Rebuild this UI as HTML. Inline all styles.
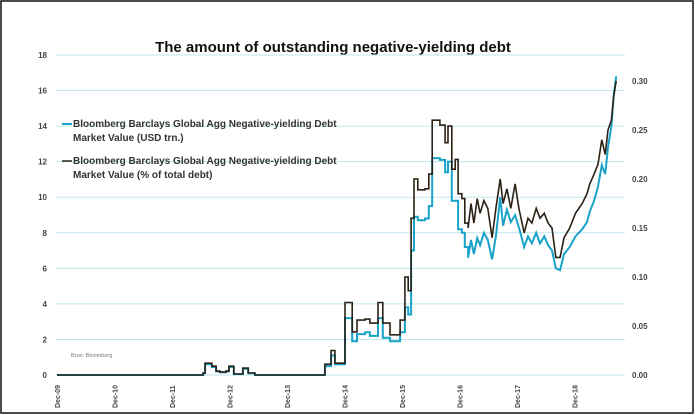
<!DOCTYPE html>
<html><head><meta charset="utf-8"><style>
html,body{margin:0;padding:0;background:#fff;}
#wrap{position:relative;width:695px;height:415px;overflow:hidden;}
svg{position:absolute;left:0;top:0;font-family:"Liberation Sans",sans-serif;}
</style></head><body>
<div id="wrap">
<svg id="chart" width="695" height="415">
<rect x="1" y="1" width="692" height="412" fill="#fff" stroke="#111" stroke-width="1.5"/>
<text x="333" y="52" text-anchor="middle" font-size="15" font-weight="bold" fill="#111">The amount of outstanding negative-yielding debt</text>
<g id="grid"></g><g id="series"></g><g id="axes"></g>
<line x1="62" y1="124" x2="72" y2="124" stroke="#1aa3c8" stroke-width="2"/>
<text x="73" y="127" font-size="10" font-weight="bold" fill="#333">Bloomberg Barclays Global Agg Negative-yielding Debt</text>
<text x="73" y="141" font-size="10" font-weight="bold" fill="#333">Market Value (USD trn.)</text>
<line x1="62" y1="161" x2="72" y2="161" stroke="#2b2114" stroke-width="1.5"/>
<text x="73" y="164" font-size="10" font-weight="bold" fill="#333">Bloomberg Barclays Global Agg Negative-yielding Debt</text>
<text x="73" y="178" font-size="10" font-weight="bold" fill="#333">Market Value (% of total debt)</text>
<text x="71" y="357" font-size="5.5" fill="#777">Bron: Bloomberg</text>
</svg></div>
<script>
const months=[0,29.8,30.5,30.9,32.3,33.2,34,35.3,35.9,36.9,38.8,39.9,41.3,54.9,55.9,57.2,58,60.1,61.6,62.6,64.3,65.3,67,68,69.5,71.6,72.6,73.3,73.9,74.5,75.3,76.8,77.6,78.3,79.9,81,81.6,82.4,83.1,83.7,84.5,85.1,85.8,86.4,87,87.7,88.3,89.1,89.9,90.8,91.6,92.5,93.1,93.9,94.7,95.6,96.4,97.5,98.3,99.1,100,100.8,101.7,102.5,103.3,104.1,105,105.8,107,108.2,109.6,110.6,111.2,112.1,112.9,113.7,114.4,115,115.7,116.2,116.7];
const usd=[0,0,0.1,0.6,0.45,0.2,0.15,0.2,0.45,0.05,0.35,0.1,0,0,0.5,1.1,0.6,3.2,1.9,2.3,2.4,2.2,3.2,2.1,1.9,2.4,3.8,3.4,7.0,8.9,8.7,8.8,9.5,12.2,12.1,11.4,12.0,9.8,9.8,8.2,8.0,7.2,6.6,7.6,6.8,7.7,7.3,8.0,7.6,6.5,7.8,10.0,8.4,9.3,8.6,9.0,8.3,7.2,7.8,7.4,8.0,7.4,7.8,7.3,7.0,6.0,5.9,6.8,7.2,7.8,8.2,8.6,9.2,9.8,10.6,11.8,11.3,12.8,14.0,15.8,16.8];
const pct=[0,0,0.002,0.012,0.009,0.004,0.003,0.004,0.009,0.001,0.007,0.002,0,0,0.011,0.025,0.012,0.074,0.044,0.056,0.057,0.053,0.074,0.053,0.041,0.056,0.1,0.086,0.16,0.2,0.189,0.19,0.205,0.26,0.255,0.237,0.254,0.21,0.22,0.185,0.18,0.155,0.15,0.175,0.155,0.18,0.165,0.178,0.17,0.14,0.17,0.2,0.175,0.19,0.17,0.195,0.17,0.145,0.16,0.155,0.17,0.16,0.165,0.155,0.15,0.12,0.12,0.14,0.15,0.165,0.175,0.185,0.195,0.205,0.215,0.24,0.225,0.25,0.26,0.285,0.3];
const leftTicks=[0,2,4,6,8,10,12,14,16,18];
const rightTicks=[0,0.05,0.10,0.15,0.20,0.25,0.30];
const xLabels=["Dec-09","Dec-10","Dec-11","Dec-12","Dec-13","Dec-14","Dec-15","Dec-16","Dec-17","Dec-18"];
const NS="http://www.w3.org/2000/svg";
const xS=m=>57+m*57.5/12;
const yL=v=>375-v*17.78;
const yR=v=>375-v*980;
const grid=document.getElementById('grid'),ser=document.getElementById('series'),ax=document.getElementById('axes');
function mk(tag,at,parent){const e=document.createElementNS(NS,tag);for(const k in at)e.setAttribute(k,at[k]);parent.appendChild(e);return e;}
leftTicks.forEach(v=>{
  const l=mk('line',{x1:56,x2:625,y1:yL(v),y2:yL(v),stroke:'#bfe6ee','stroke-width':1},grid);
  
  
  const t=mk('text',{x:47,y:yL(v)+3,'text-anchor':'end','font-size':8,'font-weight':'bold',fill:'#444'},ax);
  t.textContent=v;
  
  
});
rightTicks.forEach(v=>{
  const t=mk('text',{x:632,y:yR(v)+3,'font-size':8,'font-weight':'bold',fill:'#444'},ax);
  t.textContent=v.toFixed(2);
  
  
});
xLabels.forEach((s,i)=>{
  const x=xS(i*12);
  const t=mk('text',{x:0,y:0,transform:`translate(${x+3},408) rotate(-90)`,'font-size':7,'font-weight':'bold',fill:'#444'},ax);
  t.textContent=s;
  
  
});
function path(vals,yf){
  let d='';
  for(let i=0;i<months.length;i++){
    const x=xS(months[i]).toFixed(1),y=yf(vals[i]).toFixed(1);
    if(i===0)d+=`M${x},${y}`;
    else if(months[i]<86)d+=`H${x}V${y}`;
    else d+=`L${x},${y}`;
  }
  return d;
}
const pu=mk('path',{d:path(usd,yL),fill:'none',stroke:'#1aa3c8','stroke-width':2},ser);


const pp=mk('path',{d:path(pct,yR),fill:'none',stroke:'#2b2114','stroke-width':1.6},ser);


</script>
</body></html>
